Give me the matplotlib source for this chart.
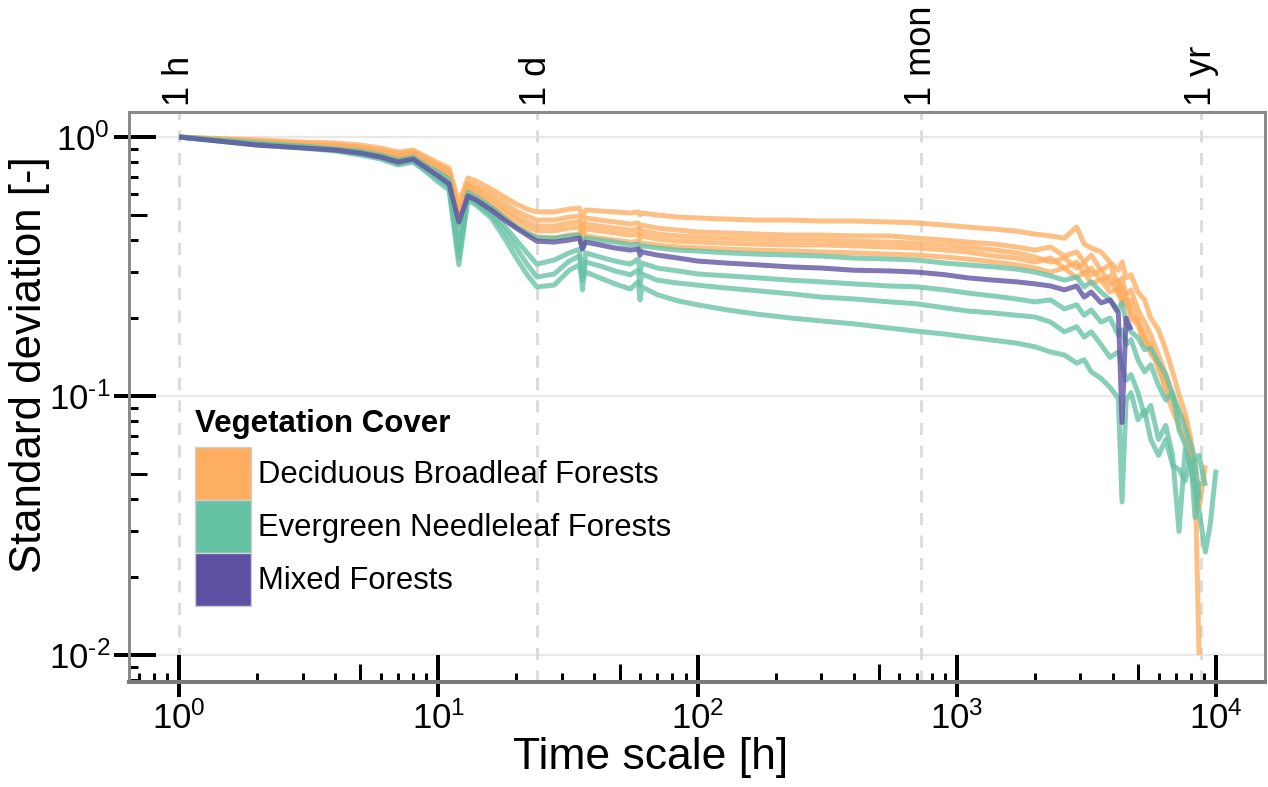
import numpy as np
import matplotlib
matplotlib.use("Agg")
import matplotlib.pyplot as plt
import matplotlib.ticker as mticker
from matplotlib.patches import Patch

plt.rcParams['font.family'] = ['Liberation Sans', 'DejaVu Sans']
plt.rcParams['mathtext.fontset'] = 'custom'
plt.rcParams['mathtext.rm'] = 'Liberation Sans'
plt.rcParams['mathtext.it'] = 'Liberation Sans:italic'
plt.rcParams['mathtext.bf'] = 'Liberation Sans:bold'

DPI = 100


def px(v):
    return v * 72.0 / DPI


# ---------------- data ----------------
hours = [1, 2, 3, 4, 5, 6, 7, 8, 9, 10, 11, 12, 13, 14, 16, 18, 20, 22, 24, 28,
         32, 35, 36, 37, 42, 48, 55, 59, 60, 61, 70, 84, 100, 130, 170, 230, 300, 400, 550, 700,
         900, 1100, 1400, 1700, 2000, 2300, 2600, 2900, 3100, 3300, 3600, 3900, 4200, 4340, 4500,
         4700, 5000, 5300, 5600, 6000, 6400, 6800, 7200, 7600, 8000, 8300, 8600, 9100, 9500, 10000]

# Deciduous Broadleaf Forests sites
dbf_1 = [1.000, 0.974, 0.956, 0.948, 0.931, 0.907, 0.875, 0.891, 0.837, 0.794,
         0.759, 0.556, 0.695, 0.676, 0.630, 0.586, 0.551, 0.527, 0.514, 0.514,
         0.527, 0.532, 0.496, 0.523, 0.518, 0.514, 0.509, 0.514, 0.500, 0.509,
         0.500, 0.491, 0.487, 0.482, 0.478, 0.478, 0.474, 0.474, 0.470, 0.466,
         0.457, 0.449, 0.441, 0.433, 0.422, 0.415, 0.407, 0.449, 0.386, 0.373,
         0.360, 0.329, 0.306, 0.329, 0.286, 0.294, 0.252, 0.235, 0.200, 0.180,
         0.151, 0.124, 0.101, 0.086, 0.068, 0.052, 0.010]
dbf_2 = [1.000, 0.965, 0.948, 0.931, 0.915, 0.891, 0.860, 0.875, 0.822, 0.780,
         0.739, 0.523, 0.664, 0.647, 0.603, 0.556, 0.518, 0.495, 0.478, 0.478,
         0.491, 0.495, 0.457, 0.487, 0.478, 0.470, 0.461, 0.466, 0.445, 0.457,
         0.445, 0.437, 0.430, 0.426, 0.422, 0.418, 0.418, 0.415, 0.415, 0.407,
         0.400, 0.393, 0.386, 0.376, 0.366, 0.376, 0.347, 0.360, 0.329, 0.350,
         0.306, 0.321, 0.268, 0.286, 0.246, 0.257, 0.215, 0.193, 0.172, 0.144,
         0.121, 0.101, 0.086, 0.081, 0.062, 0.047, 0.037, 0.054]
dbf_3 = [1.000, 0.956, 0.940, 0.923, 0.907, 0.883, 0.845, 0.868, 0.808, 0.766,
         0.726, 0.500, 0.653, 0.630, 0.581, 0.532, 0.495, 0.470, 0.453, 0.453,
         0.466, 0.470, 0.430, 0.461, 0.453, 0.445, 0.437, 0.441, 0.422, 0.434,
         0.422, 0.415, 0.411, 0.407, 0.404, 0.400, 0.400, 0.396, 0.393, 0.389,
         0.383, 0.376, 0.366, 0.357, 0.344, 0.329, 0.341, 0.312, 0.326, 0.294,
         0.306, 0.268, 0.280, 0.235, 0.246, 0.205, 0.197, 0.165, 0.158, 0.126,
         0.110, 0.0965]
dbf_4 = [1.000, 0.956, 0.931, 0.915, 0.899, 0.875, 0.837, 0.860, 0.801, 0.759,
         0.713, 0.487, 0.635, 0.613, 0.561, 0.514, 0.478, 0.449, 0.434, 0.434,
         0.445, 0.449, 0.407, 0.441, 0.434, 0.426, 0.418, 0.422, 0.404, 0.415,
         0.404, 0.396, 0.393, 0.389, 0.386, 0.383, 0.383, 0.380, 0.376, 0.373,
         0.366, 0.360, 0.347, 0.341, 0.329, 0.341, 0.312, 0.329, 0.296, 0.312,
         0.280, 0.291, 0.246, 0.264, 0.225, 0.235, 0.193, 0.175, 0.146, 0.132,
         0.104, 0.088, 0.077, 0.068, 0.057]
dbf_5 = [1.000, 0.948, 0.923, 0.907, 0.891, 0.867, 0.830, 0.852, 0.787, 0.746,
         0.701, 0.457, 0.624, 0.597, 0.541, 0.491, 0.453, 0.426, 0.407, 0.407,
         0.418, 0.422, 0.380, 0.415, 0.407, 0.400, 0.393, 0.396, 0.380, 0.389,
         0.383, 0.376, 0.373, 0.369, 0.366, 0.363, 0.360, 0.357, 0.353, 0.350,
         0.344, 0.338, 0.329, 0.321, 0.312, 0.301, 0.312, 0.286, 0.301, 0.273,
         0.280, 0.252, 0.261, 0.225, 0.235, 0.200, 0.188, 0.158, 0.151]

# Evergreen Needleleaf Forests sites
enf_1 = [1.000, 0.948, 0.923, 0.899, 0.883, 0.852, 0.815, 0.837, 0.773, 0.733,
         0.688, 0.418, 0.613, 0.586, 0.537, 0.487, 0.449, 0.426, 0.411, 0.407,
         0.415, 0.418, 0.373, 0.407, 0.400, 0.393, 0.383, 0.386, 0.366, 0.380,
         0.373, 0.366, 0.363, 0.357, 0.353, 0.350, 0.347, 0.341, 0.338, 0.335,
         0.326, 0.321, 0.315, 0.309, 0.301, 0.291, 0.280, 0.288, 0.264, 0.276,
         0.252, 0.235, 0.215, 0.229, 0.193, 0.177, 0.168, 0.151, 0.153, 0.135,
         0.121, 0.101, 0.088, 0.075, 0.065, 0.057, 0.059, 0.045]
enf_2 = [1.000, 0.940, 0.915, 0.891, 0.867, 0.837, 0.794, 0.815, 0.752, 0.707,
         0.659, 0.366, 0.592, 0.566, 0.514, 0.453, 0.400, 0.357, 0.323, 0.335,
         0.357, 0.369, 0.257, 0.357, 0.344, 0.332, 0.323, 0.338, 0.301, 0.326,
         0.312, 0.304, 0.296, 0.291, 0.286, 0.280, 0.276, 0.271, 0.266, 0.264,
         0.257, 0.250, 0.243, 0.237, 0.231, 0.235, 0.217, 0.225, 0.205, 0.215,
         0.193, 0.200, 0.172, 0.180, 0.158, 0.165, 0.138, 0.124, 0.132, 0.110,
         0.0965, 0.103, 0.074, 0.065, 0.052, 0.057, 0.040]
enf_3 = [1.000, 0.940, 0.915, 0.891, 0.860, 0.830, 0.787, 0.808, 0.739, 0.688,
         0.641, 0.341, 0.581, 0.556, 0.500, 0.434, 0.373, 0.323, 0.288, 0.296,
         0.332, 0.347, 0.294, 0.329, 0.318, 0.304, 0.294, 0.306, 0.268, 0.296,
         0.280, 0.273, 0.268, 0.261, 0.255, 0.248, 0.241, 0.237, 0.231, 0.227,
         0.219, 0.213, 0.209, 0.205, 0.202, 0.193, 0.177, 0.185, 0.169, 0.177,
         0.158, 0.141, 0.148, 0.132, 0.115, 0.121, 0.103, 0.084, 0.092, 0.068,
         0.077, 0.059, 0.030, 0.062, 0.053, 0.043, 0.036, 0.025, 0.032, 0.052]
enf_4 = [1.000, 0.931, 0.907, 0.883, 0.852, 0.822, 0.780, 0.801, 0.733, 0.670,
         0.624, 0.321, 0.571, 0.546, 0.487, 0.407, 0.341, 0.294, 0.264, 0.268,
         0.306, 0.321, 0.280, 0.301, 0.286, 0.271, 0.259, 0.276, 0.235, 0.264,
         0.246, 0.233, 0.225, 0.215, 0.207, 0.200, 0.195, 0.190, 0.183, 0.178,
         0.1735, 0.169, 0.164, 0.160, 0.155, 0.148, 0.144, 0.134, 0.138, 0.124,
         0.117, 0.108, 0.098, 0.039, 0.0965, 0.103, 0.081, 0.088, 0.068, 0.059,
         0.068, 0.054, 0.052, 0.047, 0.057, 0.034, 0.047]

# Mixed Forests site
mf_1 = [1.000, 0.931, 0.907, 0.891, 0.867, 0.837, 0.801, 0.822, 0.759, 0.707,
        0.659, 0.470, 0.592, 0.571, 0.523, 0.478, 0.445, 0.418, 0.396, 0.393,
        0.400, 0.407, 0.369, 0.393, 0.383, 0.373, 0.366, 0.369, 0.350, 0.360,
        0.350, 0.341, 0.332, 0.326, 0.321, 0.315, 0.312, 0.306, 0.304, 0.301,
        0.294, 0.286, 0.280, 0.276, 0.271, 0.266, 0.257, 0.266, 0.241, 0.252,
        0.229, 0.235, 0.209, 0.079, 0.200, 0.180]

categories = ["Deciduous Broadleaf Forests", "Evergreen Needleleaf Forests", "Mixed Forests"]
category_sites = [[dbf_1, dbf_2, dbf_3, dbf_4, dbf_5],
                  [enf_1, enf_2, enf_3, enf_4],
                  [mf_1]]
colors = ["#FDAE61", "#66C2A5", "#5E4FA2"]

period_hours = [1, 24, 730, 8760]
period_labels = ["1 h", "1 d", "1 mon", "1 yr"]

x_major = [1, 10, 100, 1000, 10000]
x_major_labels = [r"$10^{0}$", r"$10^{1}$", r"$10^{2}$", r"$10^{3}$", r"$10^{4}$"]
y_major = [0.01, 0.1, 1]
y_major_labels = [r"$10^{\text{-}2}$", r"$10^{\text{-}1}$", r"$10^{0}$"]

# ---------------- figure ----------------
W, H = 1268, 787
fig = plt.figure(figsize=(W / DPI, H / DPI), dpi=DPI)
L, R, T, B = 129, 1265, 112, 682
ax = fig.add_axes([L / W, 1 - B / H, (R - L) / W, (B - T) / H])
ax.set_xscale('log')
ax.set_yscale('log')
ax.set_xlim(0.641, 15450)
ax.set_ylim(0.00787, 1.249)

# grid
for yv in y_major:
    ax.axhline(yv, color="#e8e8e8", lw=px(2.2), zorder=0)
for xv in period_hours:
    ax.axvline(xv, color="#dcdcdc", lw=px(3), linestyle=(0, (4, 3.5)), zorder=0)

n = len(hours)
for sites, col in zip(category_sites, colors):
    for s in sites:
        vals = np.array(s + [np.nan] * (n - len(s)), dtype=float)
        ax.plot(hours, vals, color=col, lw=px(5), alpha=0.78,
                solid_joinstyle='round', solid_capstyle='butt', zorder=2)

# spines
for sp in ax.spines.values():
    sp.set_color("#8a8a8a")
    sp.set_linewidth(px(3))
ax.spines['bottom'].set_color("#7a7a7a")
ax.spines['bottom'].set_linewidth(px(4))

# main ticks: decades outside, short log ticks inside
ax.set_xticks(x_major, labels=x_major_labels)
ax.set_yticks(y_major, labels=y_major_labels)
ax.xaxis.set_minor_locator(mticker.LogLocator(base=10, subs=(2, 3, 4, 6, 7, 8, 9), numticks=50))
ax.yaxis.set_minor_locator(mticker.LogLocator(base=10, subs=(2, 3, 4, 6, 7, 8, 9), numticks=50))
ax.xaxis.set_minor_formatter(mticker.NullFormatter())
ax.yaxis.set_minor_formatter(mticker.NullFormatter())
ax.tick_params(which='major', direction='out', length=px(15), width=px(4), color='black',
               labelsize=25, pad=px(4), labelcolor='black')
ax.tick_params(which='minor', direction='in', length=px(9), width=px(3), color='black')

ident = (lambda v: v, lambda v: v)
secx = ax.secondary_xaxis('bottom', functions=ident)
secx.xaxis.set_major_locator(mticker.FixedLocator(x_major))
secx.xaxis.set_minor_locator(mticker.FixedLocator([5, 50, 500, 5000]))
secx.xaxis.set_major_formatter(mticker.NullFormatter())
secx.xaxis.set_minor_formatter(mticker.NullFormatter())
secx.tick_params(which='major', direction='in', length=px(27), width=px(4), color='black')
secx.tick_params(which='minor', direction='in', length=px(18), width=px(3), color='black')
for sp in secx.spines.values():
    sp.set_visible(False)

secy = ax.secondary_yaxis('left', functions=ident)
secy.yaxis.set_major_locator(mticker.FixedLocator(y_major))
secy.yaxis.set_minor_locator(mticker.FixedLocator([0.05, 0.5]))
secy.yaxis.set_major_formatter(mticker.NullFormatter())
secy.yaxis.set_minor_formatter(mticker.NullFormatter())
secy.tick_params(which='major', direction='in', length=px(27), width=px(4), color='black')
secy.tick_params(which='minor', direction='in', length=px(18), width=px(3), color='black')
for sp in secy.spines.values():
    sp.set_visible(False)

top = ax.secondary_xaxis('top', functions=ident)
top.set_xticks(period_hours, labels=period_labels)
top.xaxis.set_minor_locator(mticker.NullLocator())
top.tick_params(which='major', length=0, labelsize=26, pad=px(6), labelrotation=90)
for sp in top.spines.values():
    sp.set_visible(False)

# axis titles
ax.set_xlabel("Time scale [h]", fontsize=32)
ax.xaxis.set_label_coords((651 - L) / (R - L), (B - 737) / (B - T))
ax.xaxis.label.set_va('top')
ax.set_ylabel("Standard deviation [-]", fontsize=31.5)
ax.yaxis.set_label_coords((50 - L) / (R - L), (B - 365) / (B - T))

# legend
fs = 22.3
fpx = fs * DPI / 72.0
key_w, key_h = 56, 53
handles = [Patch(facecolor=c, edgecolor="#cfcfcf", linewidth=1) for c in colors]
leg = ax.legend(handles, categories, title="Vegetation Cover",
                title_fontproperties={'weight': 'bold', 'size': 22.5}, fontsize=fs,
                loc='upper left', bbox_to_anchor=((195 - L) / (R - L), (B - 409) / (B - T)),
                frameon=False, borderpad=0, borderaxespad=0,
                handlelength=key_w / fpx, handleheight=(key_h / fpx - 0.245) / 0.65,
                handletextpad=7 / fpx, labelspacing=0, alignment='left')
leg._legend_box.sep = px(8)

fig.savefig("out.png", dpi=DPI)
